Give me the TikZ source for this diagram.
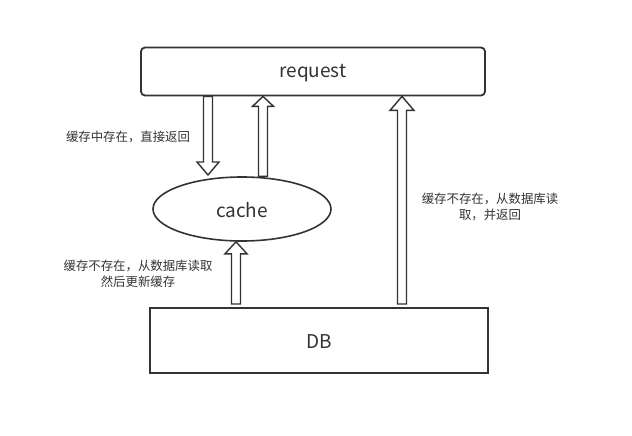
\documentclass[tikz,border=0pt]{standalone}
\usepackage{fontspec}
\setmainfont{Noto Sans CJK SC}
\usetikzlibrary{calc,shapes.geometric}
\definecolor{ln}{HTML}{333333}
\tikzset{
  box/.style={draw=ln,line width=1.8pt,inner sep=0pt},
  blockarrow/.style={draw=ln,line width=1.4pt,fill=white,line join=miter},
  lbl/.style={font=\fontsize{12.4}{16.5}\selectfont,text=ln,align=center,inner sep=0pt},
  big/.style={font=\fontsize{19}{21}\selectfont,text=ln}
}
\newcommand\vblockarrow[5]{% from #1 to #2, shaft half #3, head half #4, head length #5
  \draw[blockarrow] let \p1=(#1), \p2=(#2), \n1={sign(\y2-\y1)} in
   (\x1-#3pt,\y1) -- (\x1-#3pt,\y2-\n1*#5pt) -- (\x1-#4pt,\y2-\n1*#5pt) -- (\x1,\y2)
   -- (\x1+#4pt,\y2-\n1*#5pt) -- (\x1+#3pt,\y2-\n1*#5pt) -- (\x1+#3pt,\y1) -- cycle;}
\begin{document}
\begin{tikzpicture}[x=1pt,y=-1pt]
\useasboundingbox[fill=white] (0,0) rectangle (632,436);
\node[box,rounded corners=4pt,minimum width=344pt,minimum height=48pt] (request) at (313,71.5) {};
\node[big] (reqtext) at (313,73) {request};
\node[box,ellipse,minimum width=178pt,minimum height=64pt,line width=1.6pt] (cache) at (242,209) {};
\node[big] (cachetext) at (242,210) {cache};
\node[box,minimum width=338pt,minimum height=65pt] (db) at (319,340.5) {};
\node[big] (dbtext) at (319,342) {DB};

\coordinate (a1s) at (request.south -| 208,0);
\coordinate (a1e) at (208,175);
\coordinate (a2s) at (cache.north -| 263,0);
\coordinate (a2e) at (request.south -| 263,0);
\coordinate (a3s) at (402,304);
\coordinate (a3e) at (request.south -| 402,0);
\coordinate (a4s) at (236,304);
\coordinate (a4e) at (cache.south -| 236,0);

\vblockarrow{a1s}{a1e}{4.5}{11}{13}
\vblockarrow{a2s}{a2e}{4.5}{10.5}{10}
\vblockarrow{a3s}{a3e}{4.5}{12}{14}
\vblockarrow{a4s}{a4e}{4.5}{11}{12}

\node[lbl] (t1) at (128,137) {缓存中存在，直接返回};
\node[lbl] (t2) at (138,274) {缓存不存在，从数据库读取\\然后更新缓存};
\node[lbl] (t3) at (490,207) {缓存不存在，从数据库读\\取，并返回};
\end{tikzpicture}
\end{document}
